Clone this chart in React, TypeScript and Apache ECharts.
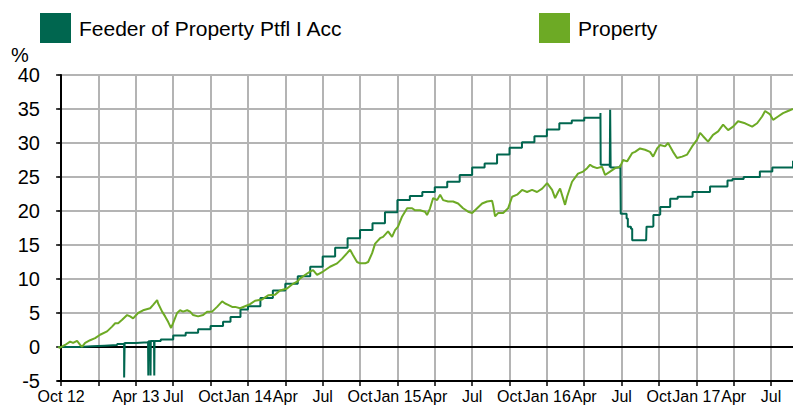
import React, { useEffect, useRef } from "react";
import * as echarts from "echarts";

// x values are months since 1 Oct 2012
const seriesNames = ["Feeder of Property Ptfl I Acc", "Property"];
const tickMonths = [0, 3, 6, 9, 12, 15, 18, 21, 24, 27, 30, 33, 36, 39, 42, 45, 48, 51, 54, 57];
const tickLabels = ["Oct 12", "", "Apr 13", "Jul", "Oct", "Jan 14", "Apr", "Jul", "Oct", "Jan 15", "Apr", "Jul", "Oct", "Jan 16", "Apr", "Jul", "Oct", "Jan 17", "Apr", "Jul"];
const xStart = -0.25;
const xEnd = 58.76;

const feederData: [number, number][] = [
  [-0.25, 0.0], [0.5, 0.0], [1.5, 0.1], [2.5, 0.2], [3.5, 0.3], [4.5, 0.45], [5.02, 0.55], [5.06, -4.5], [5.1, 0.6],
  [6.0, 0.7], [6.98, 0.85], [7.0, -4.2], [7.02, 0.85], [7.16, 0.85], [7.18, -4.2], [7.2, 0.9], [7.46, 0.9], [7.48, -4.2], [7.5, 0.9],
  [8.0, 1.1], [9.0, 1.7], [10.0, 2.1], [11.0, 2.6], [12.0, 3.1], [13.0, 3.7], [13.6, 4.4], [14.4, 5.5], [15.0, 6.0],
  [16.0, 7.2], [17.0, 8.3], [18.0, 9.3], [19.0, 10.4], [20.0, 11.8], [21.0, 13.3], [22.0, 14.6], [23.0, 16.0], [24.0, 17.2],
  [25.0, 18.2], [26.0, 19.8], [27.0, 21.6], [28.0, 22.2], [29.0, 22.8], [30.0, 23.5], [31.0, 24.3], [32.0, 25.3], [33.0, 26.4],
  [34.0, 27.0], [35.0, 28.3], [36.0, 29.3], [37.0, 30.1], [38.0, 31.0], [39.0, 32.0], [40.0, 32.9], [41.0, 33.3], [42.0, 33.7],
  [43.3, 34.4], [43.32, 26.8], [44.05, 26.4], [44.08, 34.9], [44.12, 26.4], [44.9, 26.8], [44.93, 19.6], [45.4, 18.9], [45.5, 17.7],
  [45.75, 17.4], [45.85, 15.7], [46.97, 15.7], [47.0, 17.7], [47.5, 17.8], [47.55, 19.4], [48.0, 19.5], [48.1, 20.6], [48.9, 21.8],
  [49.5, 22.1], [50.7, 22.8], [52.1, 23.6], [53.5, 24.5], [53.9, 24.7], [54.8, 25.0], [56.1, 25.8], [57.1, 26.4], [58.76, 27.4],
];

const propertyData: [number, number][] = [
  [-0.24, 0.0], [-0.08, -0.1], [0.32, 0.3], [0.72, 0.8], [0.96, 0.6], [1.28, 0.9], [1.53, 0.3], [1.69, 0.05], [1.93, 0.6],
  [2.33, 1.0], [2.73, 1.3], [3.13, 1.8], [3.69, 2.3], [4.09, 3.0], [4.34, 3.5], [4.58, 3.5], [4.9, 4.0], [5.3, 4.7],
  [5.54, 4.5], [5.78, 4.2], [6.18, 5.0], [6.58, 5.4], [7.15, 5.7], [7.39, 6.2], [7.71, 6.9], [7.79, 6.4], [8.11, 5.2],
  [8.35, 4.5], [8.59, 3.7], [8.83, 2.8], [8.99, 3.5], [9.31, 5.0], [9.55, 5.4], [9.79, 5.2], [10.12, 5.4], [10.36, 5.2],
  [10.6, 4.7], [11.0, 4.5], [11.4, 4.7], [11.72, 5.2], [12.12, 5.2], [12.52, 5.9], [12.93, 6.7], [13.17, 6.4], [13.41, 6.2],
  [13.73, 5.9], [13.97, 5.9], [14.37, 5.7], [14.77, 6.0], [15.17, 6.3], [15.57, 6.8], [16.14, 7.0], [16.62, 7.6], [17.18, 7.7],
  [17.58, 8.3], [18.14, 8.6], [18.54, 9.2], [18.95, 9.6], [19.19, 10.1], [19.99, 11.1], [20.23, 11.3], [20.55, 10.6], [21.03, 11.1],
  [21.59, 11.8], [22.16, 12.3], [22.56, 13.0], [22.96, 13.8], [23.2, 14.3], [23.44, 13.5], [23.76, 12.5], [24.0, 12.3], [24.41, 12.3],
  [24.65, 12.5], [24.97, 13.8], [25.21, 15.2], [25.61, 16.0], [25.85, 16.2], [26.25, 17.0], [26.57, 16.2], [26.81, 17.2], [27.05, 17.7],
  [27.38, 19.2], [27.78, 20.4], [28.18, 20.4], [28.42, 20.1], [28.82, 20.1], [29.22, 19.9], [29.38, 19.4], [29.62, 20.4], [29.87, 21.9],
  [30.19, 21.6], [30.43, 22.4], [30.67, 21.6], [31.07, 21.4], [31.47, 21.4], [31.87, 21.1], [32.27, 20.4], [32.68, 19.9], [33.0, 19.7],
  [33.4, 20.4], [33.8, 21.1], [34.2, 21.4], [34.6, 21.5], [34.68, 20.9], [34.84, 19.2], [35.08, 19.7], [35.49, 19.7], [35.89, 20.4],
  [36.21, 22.1], [36.61, 22.4], [37.01, 23.1], [37.41, 22.8], [37.81, 23.1], [38.21, 22.8], [38.62, 23.3], [39.02, 24.1], [39.42, 23.1],
  [39.66, 21.9], [39.9, 22.8], [40.06, 23.3], [40.46, 20.9], [40.62, 22.1], [41.02, 24.3], [41.5, 25.5], [41.91, 25.8], [42.23, 26.3],
  [42.47, 26.8], [42.71, 26.5], [43.03, 26.3], [43.43, 26.5], [43.67, 25.3], [44.07, 25.8], [44.48, 26.3], [44.88, 26.5], [45.12, 27.5],
  [45.44, 27.3], [45.84, 28.5], [46.08, 28.7], [46.48, 29.2], [46.88, 29.0], [47.28, 28.7], [47.53, 28.0], [47.85, 29.2], [48.09, 29.7],
  [48.49, 29.5], [48.73, 30.0], [49.13, 28.7], [49.45, 27.8], [49.86, 28.0], [50.26, 28.3], [50.66, 29.5], [51.06, 30.5], [51.3, 31.5],
  [51.54, 31.0], [51.94, 30.2], [52.34, 31.2], [52.75, 31.7], [53.15, 32.7], [53.55, 31.9], [53.95, 32.4], [54.35, 33.2], [54.91, 32.9],
  [55.48, 32.4], [55.88, 32.9], [56.28, 33.9], [56.52, 34.7], [56.92, 34.2], [57.16, 33.4], [57.56, 33.9], [57.96, 34.4], [58.36, 34.7],
  [58.76, 35.0],
];

const colors = ["#00664F", "#6DAA25"];
const FONT = "'Liberation Sans', Arial, Helvetica, sans-serif";

export default function App() {
  const ref = useRef<HTMLDivElement>(null);
  useEffect(() => {
    document.body.style.margin = "0";
    if (!ref.current) return;
    const chart = echarts.init(ref.current, null, { renderer: "svg" });
    const grid = "#B4B4B4";
    const legendBase = {
      top: 13, icon: "rect", itemWidth: 31, itemHeight: 30, padding: 0, selectedMode: false,
      textStyle: { fontSize: 21, color: "#000", fontFamily: FONT, padding: [0, 0, 14, 3] },
    };
    chart.setOption({
      animation: false,
      backgroundColor: "#fff",
      textStyle: { fontFamily: FONT },
      grid: { left: 58, right: 0, top: 75, bottom: 24, containLabel: false },
      legend: [
        { ...legendBase, data: [seriesNames[0]], left: 40 },
        { ...legendBase, data: [seriesNames[1]], left: 539 },
      ],
      graphic: [
        { type: "text", left: 11, top: 45, style: { text: "%", fontSize: 20, fill: "#000", fontFamily: FONT } },
      ],
      xAxis: {
        type: "value", min: xStart, max: xEnd,
        axisLine: { onZero: false, lineStyle: { color: "#000", width: 2 } },
        axisTick: { show: true, customValues: tickMonths, length: 5, lineStyle: { color: "#000", width: 1.5 } },
        axisLabel: {
          customValues: tickMonths, fontSize: 16, color: "#000", fontFamily: FONT, margin: 7,
          formatter: (v: number) => { const i = tickMonths.indexOf(Math.round(v)); return i >= 0 ? tickLabels[i] : ""; },
        },
        splitLine: { show: true, lineStyle: { color: grid, width: 2 } },
      },
      yAxis: {
        type: "value", min: -5, max: 40, interval: 5,
        axisLine: { show: true, lineStyle: { color: "#000", width: 2 } },
        axisTick: { show: true, length: 5, lineStyle: { color: "#000", width: 1.5 } },
        axisLabel: { fontSize: 20, color: "#000", fontFamily: FONT, margin: 18 },
        splitLine: { show: true, lineStyle: { color: grid, width: 2 } },
      },
      series: [
        {
          name: seriesNames[0], type: "line", data: feederData, step: "end", showSymbol: false,
          lineStyle: { color: colors[0], width: 2 }, itemStyle: { color: colors[0] }, z: 3,
          markLine: {
            silent: true, symbol: ["none", "none"], label: { show: false }, z: 2,
            lineStyle: { color: "#000", width: 2, type: "solid" }, data: [{ yAxis: 0 }],
          },
        },
        {
          name: seriesNames[1], type: "line", data: propertyData, showSymbol: false,
          lineStyle: { color: colors[1], width: 2 }, itemStyle: { color: colors[1] }, z: 4,
        },
      ],
    });
    return () => chart.dispose();
  }, []);
  return <div ref={ref} style={{ width: 793, height: 405 }} />;
}
